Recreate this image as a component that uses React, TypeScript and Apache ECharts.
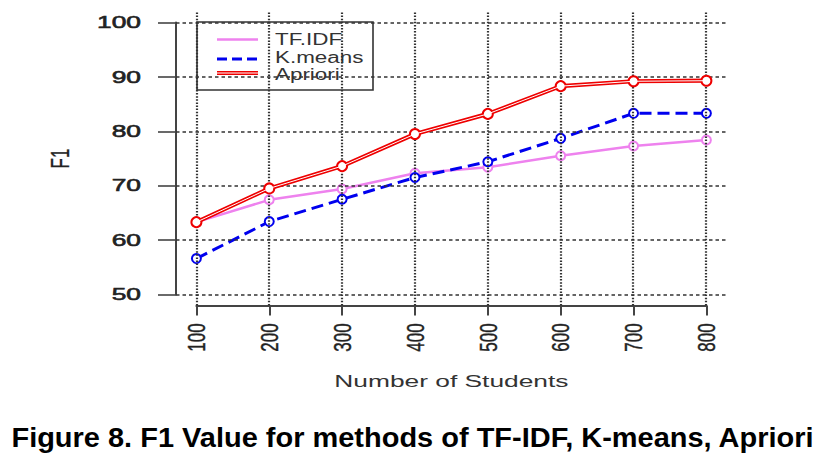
import React, { useEffect, useRef } from "react";
import * as echarts from "echarts";

const students = [100, 200, 300, 400, 500, 600, 700, 800];
const xTicks = [100, 200, 300, 400, 500, 600, 700, 800];
const yTicks = [50, 60, 70, 80, 90, 100];
const tfidf = [63.3, 67.4, 69.4, 72.3, 73.4, 75.5, 77.3, 78.4];
const kmeans = [56.6, 63.4, 67.5, 71.5, 74.4, 78.7, 83.3, 83.3];
const apriori = [63.3, 69.5, 73.6, 79.5, 83.2, 88.3, 89.2, 89.3];
const seriesNames = ["TF.IDF", "K.means", "Apriori"];
const xName = "Number of Students";
const yName = "F1";
const caption = "Figure 8. F1 Value for methods of TF-IDF, K-means, Apriori";

const VIOLET = "#EE82EE";
const BLUE = "#0000EE";
const RED = "#EE0000";
const FONT = '"Liberation Sans", Arial, sans-serif';

export default function App() {
  const ref = useRef<HTMLDivElement>(null);
  useEffect(() => {
    if (!ref.current) return;
    const chart = echarts.init(ref.current, null, { renderer: "svg" });
    const pairs = (vals: number[]) => students.map((s, i) => [s, vals[i]]);
    const yOffset = 20.4;
    const xOffset = 10.9;
    const option: any = {
      animation: false,
      backgroundColor: "#fff",
      grid: [
        { left: 176, top: 11.6, width: 550.4, height: 293.8 },
        { left: 196.4, top: 22.5, width: 510, height: 272 },
      ],
      xAxis: [
        { type: "value", gridIndex: 0, min: 72, max: 828, show: false },
        {
          type: "value",
          gridIndex: 1,
          min: 100,
          max: 800,
          interval: 100,
          offset: xOffset,
          axisLine: { show: true, lineStyle: { color: "#444", width: 2 } },
          axisTick: { show: true, length: 10, lineStyle: { color: "#444", width: 2 } },
          axisLabel: { show: false },
          splitLine: { show: false },
        },
      ],
      yAxis: [
        { type: "value", gridIndex: 0, min: 48, max: 102, show: false },
        {
          type: "value",
          gridIndex: 1,
          min: 50,
          max: 100,
          interval: 10,
          offset: yOffset,
          axisLine: { show: true, lineStyle: { color: "#444", width: 2 } },
          axisTick: { show: true, length: 18, lineStyle: { color: "#444", width: 1.6 } },
          axisLabel: { show: false },
          splitLine: { show: false },
        },
      ],
      series: [
        {
          type: "line",
          xAxisIndex: 0,
          yAxisIndex: 0,
          data: [],
          z: 1,
          silent: true,
          markLine: {
            silent: true,
            symbol: ["none", "none"],
            label: { show: false },
            emphasis: { disabled: true },
            data: [
              ...xTicks.map((v) => ({
                xAxis: v,
                lineStyle: { color: "#333", width: 2.2, type: [1.5, 1.6] },
              })),
              ...yTicks.map((v) => ({
                yAxis: v,
                lineStyle: { color: "#333", width: 1.6, type: [3.5, 3] },
              })),
            ],
          },
        },
        {
          name: seriesNames[0],
          type: "line",
          xAxisIndex: 1,
          yAxisIndex: 1,
          data: pairs(tfidf),
          z: 3,
          symbol: "emptyCircle",
          symbolSize: 9,
          color: VIOLET,
          lineStyle: { color: VIOLET, width: 2.5 },
          itemStyle: { color: VIOLET, borderColor: VIOLET, borderWidth: 2 },
        },
        {
          name: seriesNames[1],
          type: "line",
          xAxisIndex: 1,
          yAxisIndex: 1,
          data: pairs(kmeans),
          z: 4,
          symbol: "emptyCircle",
          symbolSize: 9,
          color: BLUE,
          lineStyle: { color: BLUE, width: 3, type: [12, 6] },
          itemStyle: { color: BLUE, borderColor: BLUE, borderWidth: 2.5 },
        },
        {
          name: seriesNames[2],
          type: "line",
          xAxisIndex: 1,
          yAxisIndex: 1,
          data: pairs(apriori),
          z: 5,
          symbol: "emptyCircle",
          symbolSize: 10,
          color: RED,
          lineStyle: { color: RED, width: 4.2 },
          itemStyle: { color: RED, borderColor: RED, borderWidth: 2.5 },
        },
        {
          name: seriesNames[2] + " inner",
          type: "line",
          xAxisIndex: 1,
          yAxisIndex: 1,
          data: pairs(apriori),
          z: 6,
          symbol: "none",
          silent: true,
          lineStyle: { color: "#fff", width: 1 },
        },
      ],
    };
    chart.setOption(option);

    const px = (x: number, y: number) =>
      chart.convertToPixel({ gridIndex: 1 } as any, [x, y]) as number[];
    const axisX = px(xTicks[0], yTicks[0])[0] - yOffset;
    const axisY = px(xTicks[0], yTicks[0])[1] + xOffset;
    const txt = (text: string, x: number, y: number, extra: any, style: any) => ({
      type: "text",
      x,
      y,
      silent: true,
      ...extra,
      style: {
        text,
        font: `17px ${FONT}`,
        fill: "#222",
        stroke: "#222",
        lineWidth: 0.2,
        align: "center",
        verticalAlign: "middle",
        textAlign: "center",
        textVerticalAlign: "middle",
        ...style,
      },
    });
    const graphics: any[] = [];
    yTicks.forEach((v) => {
      const p = px(xTicks[0], v);
      graphics.push(
        txt(String(v), axisX - 35, p[1], { scaleX: 1.55 }, {
          align: "right",
          textAlign: "right",
          lineWidth: 0.6,
        })
      );
    });
    xTicks.forEach((v) => {
      const p = px(v, yTicks[0]);
      graphics.push(
        txt(String(v), p[0], axisY + 18, { rotation: Math.PI / 2, scaleY: 1.45 }, {
          align: "right",
          textAlign: "right",
          lineWidth: 0.3,
        })
      );
    });
    const gTop = px(xTicks[0], yTicks[yTicks.length - 1])[1];
    const midY = (gTop + axisY - xOffset) / 2;
    const midX = (px(xTicks[0], 50)[0] + px(xTicks[xTicks.length - 1], 50)[0]) / 2;
    graphics.push(txt(yName, 60, midY, { rotation: Math.PI / 2, scaleY: 1.5 }, {}));
    graphics.push(txt(xName, midX, 381, { scaleX: 1.55 }, { fill: "#333", stroke: "none", lineWidth: 0 }));

    // legend
    const lx = 197, ly = 22, lw = 176, lh = 68;
    graphics.push({
      type: "rect",
      silent: true,
      shape: { x: lx, y: ly, width: lw, height: lh },
      style: { fill: "none", stroke: "#333", lineWidth: 1.6 },
    });
    const rows = [39.5, 57.5, 74.5];
    const l1 = 217, l2 = 258;
    graphics.push({
      type: "line",
      silent: true,
      shape: { x1: l1, y1: rows[0], x2: l2, y2: rows[0] },
      style: { stroke: VIOLET, lineWidth: 2.5 },
    });
    graphics.push({
      type: "line",
      silent: true,
      shape: { x1: l1, y1: rows[1] + 1.5, x2: l2, y2: rows[1] + 1.5 },
      style: { stroke: BLUE, lineWidth: 3, lineDash: [10, 5] },
    });
    graphics.push({
      type: "line",
      silent: true,
      shape: { x1: l1, y1: rows[2] - 1.5, x2: l2, y2: rows[2] - 1.5 },
      style: { stroke: RED, lineWidth: 4.2 },
    });
    graphics.push({
      type: "line",
      silent: true,
      shape: { x1: l1, y1: rows[2] - 1.5, x2: l2, y2: rows[2] - 1.5 },
      style: { stroke: "#fff", lineWidth: 1 },
    });
    seriesNames.forEach((n, i) => {
      graphics.push(
        txt(n, 275, rows[i], { scaleX: 1.4 }, {
          align: "left",
          textAlign: "left",
          font: `16px ${FONT}`,
          fill: "#333",
          stroke: "none",
          lineWidth: 0,
        })
      );
    });
    graphics.push(
      txt(caption, 412.5, 437, { scaleX: 1.035 }, {
        font: `bold 28px ${FONT}`,
        fill: "#000",
        stroke: "none",
        lineWidth: 0,
      })
    );
    chart.setOption({ graphic: graphics });
    return () => chart.dispose();
  }, []);
  return (
    <div
      ref={ref}
      style={{ position: "fixed", left: 0, top: 0, width: 830, height: 462, background: "#fff" }}
    />
  );
}
